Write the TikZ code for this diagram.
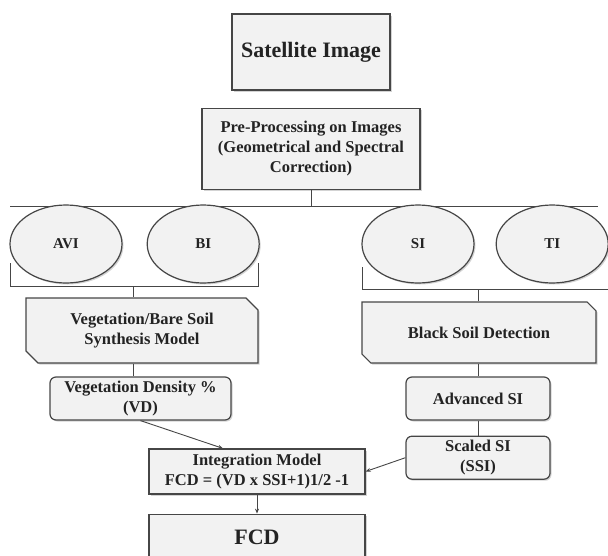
\documentclass[tikz,border=0pt]{standalone}
\usepackage{fontspec}
\setmainfont{Liberation Serif}
\usetikzlibrary{arrows.meta,positioning,shapes.geometric,shapes.misc,shadows}
\definecolor{edge}{RGB}{70,70,70}
\definecolor{ink}{RGB}{35,35,35}

\begin{document}
\begin{tikzpicture}[x=1pt, y=-1pt, every node/.style={font=\bfseries\fontsize{16.5}{20}\selectfont, text=ink, align=center, inner sep=0pt},
  box/.style={draw=edge, line width=1.2pt, fill=black!5, drop shadow={opacity=0.35, shadow xshift=1.5pt, shadow yshift=-1.5pt}},
  snip/.style={box, chamfered rectangle, chamfered rectangle corners={north east, south west}, chamfered rectangle xsep=9pt},
  pill/.style={box, rounded corners=6pt, minimum height=43pt},
  oval/.style={box, ellipse, minimum width=112pt, minimum height=78pt, font=\bfseries\fontsize{15}{18}\selectfont},
  big/.style={font=\bfseries\fontsize{22}{26}\selectfont},
  conn/.style={draw=edge, line width=0.9pt}, arr/.style={conn, -{Stealth[length=5pt, width=4pt]}}]
\useasboundingbox (0,0) rectangle (608,555);
\node[box, big, minimum width=158pt, minimum height=76pt] (sat) at (311,52) {Satellite Image};
\node[box, minimum width=218pt, minimum height=81pt, below=17pt of sat] (pre) {Pre-Processing on Images\\(Geometrical and Spectral\\Correction)};
\coordinate (top) at (pre.south |- 0,206);
\draw[conn] (10,206) -- (598,206); \draw[conn] (pre) -- (top);
\node[oval] (avi) at (66,244) {AVI};
\node[oval, right=24pt of avi] (bi) {BI};
\node[oval] (si) at (418,244) {SI};
\node[oval, right=21pt of si] (ti) {TI};
\draw[conn] (10,263) |- (258,286) -- (258,263); \draw[conn] (362,267) |- (612,289);
\coordinate (lb) at (133,286); \coordinate (rb) at (478,289);
\node[snip, minimum width=232pt, minimum height=65pt] (veg) at (142,330.5) {Vegetation/Bare Soil\\Synthesis Model};
\node[snip, minimum width=234pt, minimum height=61pt] (bsd) at (479,332.5) {Black Soil Detection};
\draw[conn] (lb) -- (lb |- veg.north); \draw[conn] (rb) -- (rb |- bsd.north);
\node[pill, minimum width=181pt] (vd) at (140.5,398.5) {Vegetation Density \%\\(VD)};
\node[pill, minimum width=144pt] (adv) at (478,398.5) {Advanced SI};
\node[pill, minimum width=144pt, below=15pt of adv] (ssi) {Scaled SI\\(SSI)};
\draw[conn] (veg.south -| lb) -- (vd.north -| lb); \draw[conn] (bsd.south -| adv) -- (adv); \draw[conn] (adv) -- (ssi);
\node[box, minimum width=216pt, minimum height=45pt] (integ) at (257,471.5) {Integration Model\\FCD = (VD x SSI+1)1/2 -1};
\node[box, big, minimum width=216pt, minimum height=46pt, below=19pt of integ] (fcd) {FCD};
\draw[arr] (vd.south) -- ([xshift=-34pt]integ.north); \draw[arr] (ssi.west) -- (integ.east); \draw[arr] (integ) -- (fcd);
\end{tikzpicture}
\end{document}
